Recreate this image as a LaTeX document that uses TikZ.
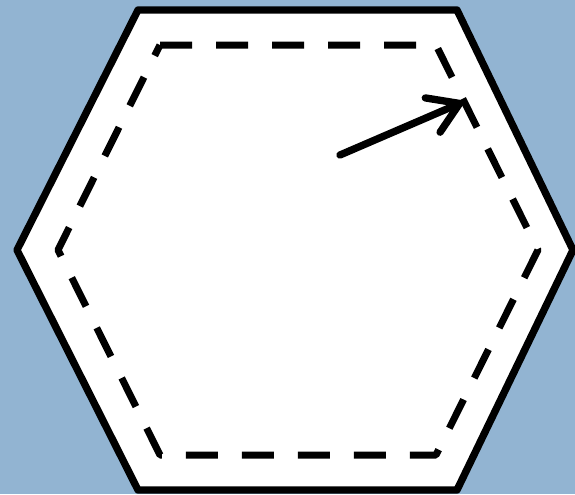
\documentclass[tikz,border=0pt]{standalone}
\usetikzlibrary{arrows.meta}
\definecolor{bgblue}{RGB}{146,180,210}
\tikzset{
  outerhex/.style={draw=black,fill=white,line width=5.5pt,line join=round},
  innerhex/.style={draw=black,line width=5.25pt,dash pattern=on 24pt off 18pt,line join=round},
  radius arrow/.style={draw=black,line width=5.5pt,line cap=round,
    -{Straight Barb[length=22pt,width=28pt,round]}}
}
\begin{document}
\begin{tikzpicture}[x=0.75pt,y=-0.75pt]
\fill[bgblue] (0,0) rectangle (575,494);
\useasboundingbox (0,0) rectangle (575,494);
% outer hexagon
\coordinate (o1) at (138,10);
\coordinate (o2) at (457,10);
\coordinate (o3) at (573,250);
\coordinate (o4) at (457,490);
\coordinate (o5) at (138,490);
\coordinate (o6) at (17,250);
\begin{scope}
\clip (0,0) rectangle (575,494);
\draw[outerhex] (o1) -- (o2) -- (o3) -- (o4) -- (o5) -- (o6) -- cycle;
\end{scope}
% inner dashed hexagon
\coordinate (i1) at (160,45);
\coordinate (i2) at (436,45);
\coordinate (i3) at (538,250);
\coordinate (i4) at (436,455);
\coordinate (i5) at (160,455);
\coordinate (i6) at (58,250);
\draw[innerhex] (i1) -- (i2) -- (i3) -- (i4) -- (i5) -- (i6) -- cycle;
% radius arrow
\coordinate (c) at (340,155);
\coordinate (t) at (463,102);
\draw[radius arrow] (c) -- (t);
\end{tikzpicture}
\end{document}
